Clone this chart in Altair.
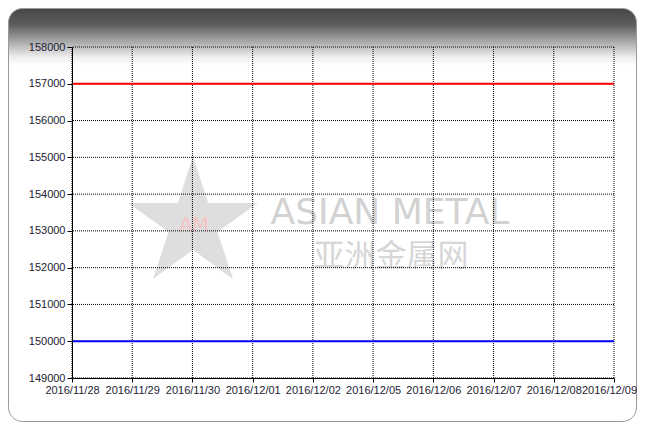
import altair as alt
import pandas as pd

dates = ["2016/11/28", "2016/11/29", "2016/11/30", "2016/12/01", "2016/12/02",
         "2016/12/05", "2016/12/06", "2016/12/07", "2016/12/08", "2016/12/09"]
high_vals = [157000] * 10
low_vals = [150000] * 10
y_ticks = [149000, 150000, 151000, 152000, 153000, 154000, 155000, 156000, 157000, 158000]

W, H = 542, 331

df = pd.DataFrame({
    "date": dates * 2,
    "value": high_vals + low_vals,
    "series": ["high"] * 10 + ["low"] * 10,
})
grid_y = pd.DataFrame({"value": y_ticks})
grid_x = pd.DataFrame({"date": dates})

xscale = alt.Scale(type="point", domain=dates, padding=0)
yscale = alt.Scale(domain=[149000, 158000], nice=False, zero=False)

last = dates[-1]
xaxis = alt.Axis(title=None, labelAngle=0, labelOverlap=False, grid=False, zindex=1,
                 tickSize=4, tickColor="#000", domainColor="#000", labelPadding=2,
                 labelBound=False, labelFlush=False,
                 labelOffset={"condition": {"test": f"datum.value === '{last}'", "value": -5}, "value": 0},
                 labelFont="Liberation Sans", labelFontSize=11, labelColor="#222233")
yaxis = alt.Axis(title=None, values=y_ticks, format="d", grid=False, zindex=1,
                 tickSize=5, tickColor="#000", domainColor="#000", labelPadding=2,
                 labelFont="Liberation Sans", labelFontSize=11, labelColor="#222233")

bg = alt.Chart(pd.DataFrame({"a": [0]})).mark_rect(
    cornerRadius=14, stroke="#9a9a9a", strokeWidth=1,
    fill=alt.Gradient(gradient="linear", x1=0, y1=0, x2=0, y2=1,
                      stops=[alt.GradientStop(offset=0, color="#474747"),
                             alt.GradientStop(offset=0.04, color="#5e5e5e"),
                             alt.GradientStop(offset=0.12, color="#f2f2f2"),
                             alt.GradientStop(offset=0.14, color="#ffffff"),
                             alt.GradientStop(offset=1, color="#ffffff")])
).encode(x=alt.value(-63.5), x2=alt.value(564.5), y=alt.value(-38.5), y2=alt.value(374.5))

star_path = ("M0,-1 L0.223,-0.307 L0.951,-0.309 L0.361,0.117 L0.588,0.809 L0,0.38 "
             "L-0.588,0.809 L-0.361,0.117 L-0.951,-0.309 L-0.223,-0.307 Z")
star = alt.Chart(pd.DataFrame({"a": [0]})).mark_point(
    shape=star_path, filled=True, color="#d6d6d6", opacity=0.8, size=18500, strokeWidth=0
).encode(x=alt.value(121), y=alt.value(177))

am = alt.Chart(pd.DataFrame({"t": ["AM"]})).mark_text(
    font="DejaVu Sans", fontSize=19, color="#f5c4c4"
).encode(x=alt.value(122), y=alt.value(178), text="t:N")

wm1 = alt.Chart(pd.DataFrame({"t": ["ASIAN METAL"]})).mark_text(
    font="DejaVu Sans", fontSize=36, color="#d2d2d2"
).encode(x=alt.value(318), y=alt.value(166), text="t:N")

wm2 = alt.Chart(pd.DataFrame({"t": ["亚洲金属网"]})).mark_text(
    font="Noto Sans CJK SC", fontSize=31, color="#d6d6d6"
).encode(x=alt.value(319), y=alt.value(210), text="t:N")

gy = alt.Chart(grid_y).mark_rule(color="#000", strokeWidth=1, strokeDash=[1, 1]).encode(
    y=alt.Y("value:Q", scale=yscale, axis=yaxis))
gx = alt.Chart(grid_x).mark_rule(color="#000", strokeWidth=1, strokeDash=[1, 1]).encode(
    x=alt.X("date:O", scale=xscale, axis=xaxis, sort=dates))

lines = alt.Chart(df).mark_line(strokeWidth=2).encode(
    x=alt.X("date:O", scale=xscale, axis=xaxis, sort=dates),
    y=alt.Y("value:Q", scale=yscale, axis=yaxis),
    color=alt.Color("series:N", scale=alt.Scale(domain=["high", "low"], range=["#ff0000", "#0000ff"]),
                    legend=None),
)

chart = alt.layer(bg, star, am, wm1, wm2, gy, gx, lines).properties(
    width=W, height=H,
    autosize=alt.AutoSizeParams(type="none"),
    padding={"left": 64, "top": 39, "right": 23, "bottom": 44},
).configure_view(stroke=None).configure(background="transparent")

chart.save("out.html", embed_options={"renderer": "svg", "actions": False})
